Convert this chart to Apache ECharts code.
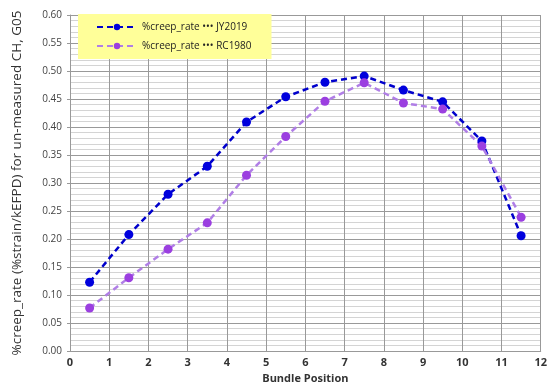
<!DOCTYPE html>
<html><head><meta charset="utf-8">
<script src="https://cdn.jsdelivr.net/npm/echarts@6/dist/echarts.min.js"></script>
<style>html,body{margin:0;padding:0;background:#fff}#c{width:550px;height:389px}</style>
</head><body><div id="c"></div>
<script>
const positions = [0.5,1.5,2.5,3.5,4.5,5.5,6.5,7.5,8.5,9.5,10.5,11.5];
const jy2019 = [0.123,0.208,0.280,0.330,0.409,0.454,0.480,0.491,0.466,0.445,0.375,0.206];
const rc1980 = [0.077,0.131,0.182,0.229,0.314,0.383,0.446,0.479,0.443,0.432,0.366,0.239];
const seriesNames = ['%creep_rate \u2022\u2022\u2022 JY2019','%creep_rate \u2022\u2022\u2022 RC1980'];
const chart = echarts.init(document.getElementById('c'));
const font = 'Open Sans';
chart.setOption({
  animation:false,
  grid:{left:70,right:7,top:15,bottom:33},
  legend:{
    left:78, top:14, orient:'vertical', itemGap:9, itemWidth:40, itemHeight:8,
    backgroundColor:'#ffff99', padding:[8,20,8,18],
    textStyle:{fontFamily:font,fontSize:10,color:'#222'},
    data:seriesNames
  },
  xAxis:{
    type:'value',min:0,max:12,interval:1,
    name:'Bundle Position',nameLocation:'middle',nameGap:16,
    nameTextStyle:{fontFamily:font,fontWeight:'bold',fontSize:11,color:'#333'},
    axisLine:{lineStyle:{color:'#999'}},axisTick:{show:false},
    axisLabel:{fontFamily:font,fontSize:11,fontWeight:'bold',color:'#333',margin:6},
    splitLine:{show:true,lineStyle:{color:'#999',width:1}}
  },
  yAxis:{
    type:'value',min:0,max:0.6,interval:0.05,
    name:'%creep_rate (%strain/kEFPD) for un-measured CH, G05',nameLocation:'middle',nameGap:46,
    nameTextStyle:{fontFamily:font,fontSize:13.5,color:'#333'},
    axisLine:{show:true,lineStyle:{color:'#999'}},axisTick:{show:true,length:3,lineStyle:{color:'#999'}},
    axisLabel:{fontFamily:font,fontSize:10,color:'#444',formatter:v=>v.toFixed(2),margin:8},
    splitLine:{show:true,lineStyle:{color:'#999',width:1}},
    minorTick:{show:false,splitNumber:5},
    minorSplitLine:{show:true,lineStyle:{color:'#d4d4d4',width:1}}
  },
  series:[
    {name:seriesNames[0],type:'line',data:positions.map((x,i)=>[x,jy2019[i]]),
     symbol:'circle',symbolSize:9,itemStyle:{color:'#0000dd'},
     lineStyle:{color:'#0000cc',width:2.5,type:[6,4]}},
    {name:seriesNames[1],type:'line',data:positions.map((x,i)=>[x,rc1980[i]]),
     symbol:'circle',symbolSize:9,itemStyle:{color:'#9b3fe0'},
     lineStyle:{color:'#b07ee6',width:2.5,type:[6,4]}}
  ]
});
</script></body></html>
